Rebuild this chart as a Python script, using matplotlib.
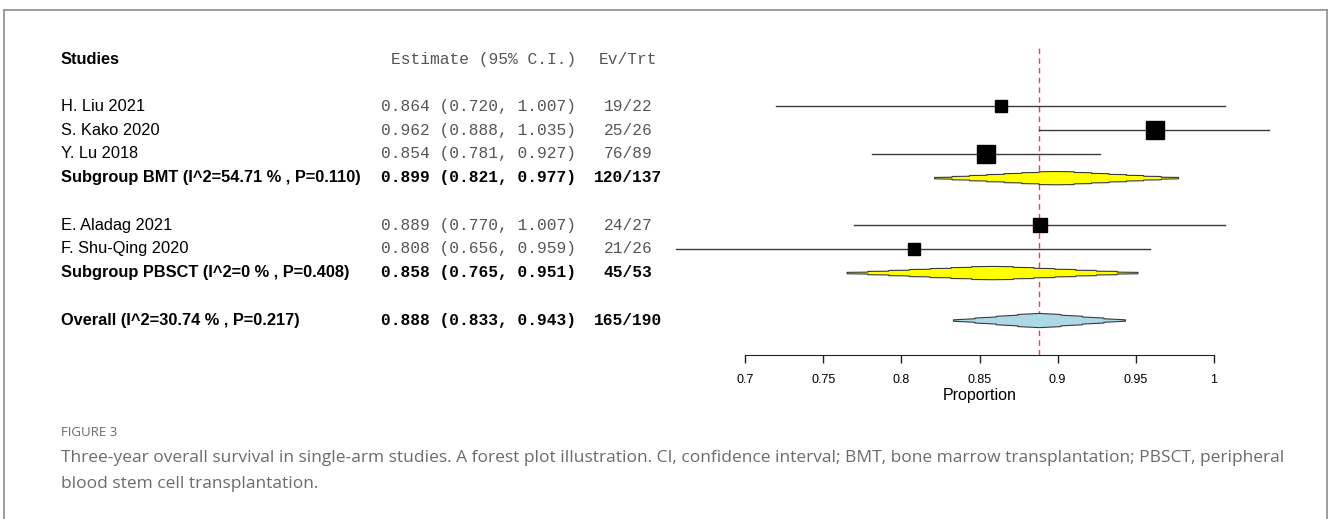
import numpy as np
import matplotlib.pyplot as plt
from matplotlib.lines import Line2D
from matplotlib.transforms import blended_transform_factory

# study level data
studies = ["H. Liu 2021", "S. Kako 2020", "Y. Lu 2018", "E. Aladag 2021", "F. Shu-Qing 2020"]
study_group = ["BMT", "BMT", "BMT", "PBSCT", "PBSCT"]
study_est = [0.864, 0.962, 0.854, 0.889, 0.808]
study_lo = [0.720, 0.888, 0.781, 0.770, 0.656]
study_hi = [1.007, 1.035, 0.927, 1.007, 0.959]
study_ev = [19, 25, 76, 24, 21]
study_n = [22, 26, 89, 27, 26]

# subgroup summaries
subgroups = ["BMT", "PBSCT"]
sub_i2 = ["54.71", "0"]
sub_p = ["0.110", "0.408"]
sub_est = [0.899, 0.858]
sub_lo = [0.821, 0.765]
sub_hi = [0.977, 0.951]
sub_ev = [120, 45]
sub_n = [137, 53]

# overall
overall_i2 = "30.74"
overall_p = "0.217"
overall_est = 0.888
overall_lo = 0.833
overall_hi = 0.943
overall_ev = 165
overall_n = 190

xticks = [0.7, 0.75, 0.8, 0.85, 0.9, 0.95, 1]
xtick_labels = ["0.7", "0.75", "0.8", "0.85", "0.9", "0.95", "1"]

W, H = 1328, 519
fig = plt.figure(figsize=(W / 100, H / 100), dpi=100)

# plot panel in pixels
x0, x1 = 745, 1214
ytop, ybot = 48, 355
row0, row_h = 59, 23.73
ax = fig.add_axes([x0 / W, 1 - ybot / H, (x1 - x0) / W, (ybot - ytop) / H])
ax.set_xlim(0.7, 1.0)
ax.set_ylim((ybot - row0) / row_h, (ytop - row0) / row_h)

tr = blended_transform_factory(fig.transFigure, ax.transData)
col_lab = 61 / W
col_est = 576 / W
col_ev = 628 / W

sans = "Liberation Sans"
mono = "Liberation Mono"
gray_txt = "#555555"
fs_lab = 11.8
fs_mono = 11.7


def diamond(y, est, lo, hi, half_h, color, levels, jag):
    # diamond with a stepped (jagged) outline
    xs = np.linspace(lo, hi, 1200)
    a = np.where(xs < est, est - lo, hi - est)
    t = np.clip(1 - np.abs(xs - est) / a, 0, 0.9999) * levels
    fl = np.floor(t)
    env = half_h * (fl + 1 - (1 - jag) * (1 - (t - fl))) / levels
    ax.fill_between(xs, y - env, y + env, facecolor=color, edgecolor="#3a3a3a",
                    lw=0.8, clip_on=False, zorder=3)


def row_text(y, label, est, lo, hi, ev, n, bold):
    w = "bold" if bold else "normal"
    c = "black" if bold else gray_txt
    ax.text(col_lab, y, label, transform=tr, ha="left", va="center",
            family=sans, fontsize=fs_lab, weight=w, color="black")
    ax.text(col_est, y, f"{est:.3f} ({lo:.3f}, {hi:.3f})", transform=tr,
            ha="right", va="center", family=mono, fontsize=fs_mono, weight=w, color=c)
    ax.text(col_ev, y, f"{ev}/{n}", transform=tr, ha="center", va="center",
            family=mono, fontsize=fs_mono, weight=w, color=c)


# header
ax.text(col_lab, 0, "Studies", transform=tr, ha="left", va="center",
        family=sans, fontsize=fs_lab, weight="bold")
ax.text(col_est, 0, "Estimate (95% C.I.)", transform=tr, ha="right", va="center",
        family=mono, fontsize=fs_mono, color=gray_txt)
ax.text(col_ev, 0, "Ev/Trt", transform=tr, ha="center", va="center",
        family=mono, fontsize=fs_mono, color=gray_txt)

row = 1
for g, name in enumerate(subgroups):
    row += 1
    for i in range(len(studies)):
        if study_group[i] != name:
            continue
        e, lo, hi = study_est[i], study_lo[i], study_hi[i]
        ax.plot([lo, hi], [row, row], color="#3a3a3a", lw=1, clip_on=False, zorder=2)
        side = 6.9 / np.sqrt(hi - lo) * 0.72
        ax.plot(e, row, marker="s", ms=side, color="black", clip_on=False, zorder=4)
        row_text(row, studies[i], e, lo, hi, study_ev[i], study_n[i], False)
        row += 1
    diamond(row, sub_est[g], sub_lo[g], sub_hi[g], 0.28, "#FFFF00", 7, 0.75)
    row_text(row, f"Subgroup {name} (I^2={sub_i2[g]} % , P={sub_p[g]})",
             sub_est[g], sub_lo[g], sub_hi[g], sub_ev[g], sub_n[g], True)
    row += 1

row += 1
diamond(row, overall_est, overall_lo, overall_hi, 0.3, "#ADD8E6", 4, 0.4)
row_text(row, f"Overall (I^2={overall_i2} % , P={overall_p})",
         overall_est, overall_lo, overall_hi, overall_ev, overall_n, True)

ax.axvline(overall_est, color="#ff3b3b", lw=1, ls=(0, (4, 3)), zorder=1)

for s in ["top", "left", "right"]:
    ax.spines[s].set_visible(False)
ax.spines["bottom"].set_color("#222222")
ax.set_yticks([])
ax.set_xticks(xticks)
ax.set_xticklabels(xtick_labels, family=sans, fontsize=9)
ax.tick_params(axis="x", length=6, width=1, color="#222222", pad=8)
ax.set_xlabel("Proportion", family=sans, fontsize=11.5, labelpad=1)
ax.patch.set_alpha(0)

# page frame
fc = "#8c8c8c"
fig.add_artist(Line2D([4 / W, 4 / W], [0, 1 - 10 / H], color=fc, lw=1.2))
fig.add_artist(Line2D([4 / W, 1327 / W], [1 - 10 / H, 1 - 10 / H], color=fc, lw=1.2))
fig.add_artist(Line2D([1327 / W, 1327 / W], [0, 1 - 10 / H], color=fc, lw=1.2))

cap = "#6b6b6b"
fig.text(61 / W, 1 - 433 / H, "FIGURE 3", family="Open Sans", fontsize=9.5,
         color=cap, va="center")
fig.text(61 / W, 1 - 458 / H,
         "Three-year overall survival in single-arm studies. A forest plot illustration. "
         "CI, confidence interval; BMT, bone marrow transplantation; PBSCT, peripheral",
         family="Open Sans", fontsize=12.5, color=cap, va="center")
fig.text(61 / W, 1 - 484 / H, "blood stem cell transplantation.",
         family="Open Sans", fontsize=12.5, color=cap, va="center")

fig.savefig("out.png", dpi=100)
